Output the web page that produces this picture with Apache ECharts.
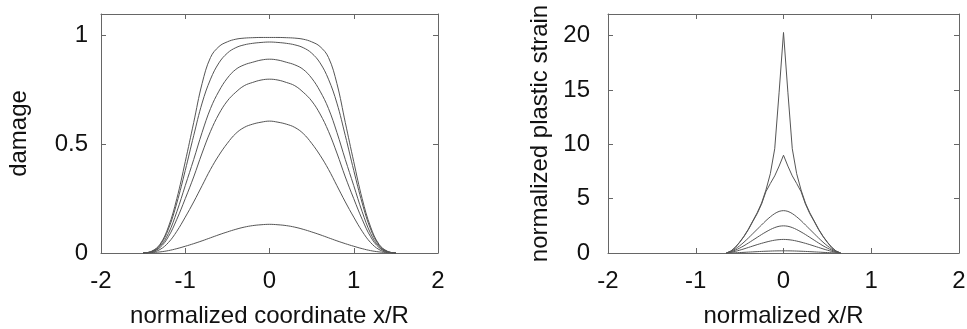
<!DOCTYPE html>
<html>
<head>
<meta charset="utf-8">
<script src="https://cdn.jsdelivr.net/npm/echarts@6/dist/echarts.min.js"></script>
<style>
  html, body { margin: 0; padding: 0; background: #fff; }
  #chart { width: 967px; height: 329px; }
</style>
</head>
<body>
<div id="chart"></div>
<script>
// left panel: damage profiles, x/R = -1.5 .. 1.5 step 0.1
const damageX = [-1.5, -1.4, -1.3, -1.2, -1.1, -1.0, -0.9, -0.8, -0.7, -0.6, -0.5, -0.4, -0.3, -0.2, -0.1,
  0, 0.1, 0.2, 0.3, 0.4, 0.5, 0.6, 0.7, 0.8, 0.9, 1.0, 1.1, 1.2, 1.3, 1.4, 1.5]
const damageA = [0, .008, .04, .12, .25, .42, .6, .78, .9, .95, .972, .984, .989, .991, .992, .992, .992, .991, .989, .984, .972, .95, .9, .78, .6, .42, .25, .12, .04, .008, 0]
const damageB = [0, .007, .036, .11, .23, .38, .54, .69, .8, .875, .92, .945, .958, .965, .969, .971, .969, .965, .958, .945, .92, .875, .8, .69, .54, .38, .23, .11, .036, .007, 0]
const damageC = [0, .006, .03, .09, .19, .31, .43, .555, .665, .745, .805, .845, .866, .878, .888, .892, .888, .878, .866, .845, .805, .745, .665, .555, .43, .31, .19, .09, .03, .006, 0]
const damageD = [0, .005, .025, .075, .155, .25, .35, .46, .56, .64, .7, .74, .77, .785, .796, .8, .796, .785, .77, .74, .7, .64, .56, .46, .35, .25, .155, .075, .025, .005, 0]
const damageE = [0, .003, .016, .048, .1, .165, .235, .31, .385, .45, .505, .55, .578, .593, .602, .607, .602, .593, .578, .55, .505, .45, .385, .31, .235, .165, .1, .048, .016, .003, 0]
const damageF = [0, .002, .005, .011, .02, .031, .043, .056, .07, .084, .097, .109, .119, .126, .13, .132, .13, .126, .119, .109, .097, .084, .07, .056, .043, .031, .02, .011, .005, .002, 0]

// right panel: normalized plastic strain, x/R = -0.65 .. 0.65 step 0.05
const strainX = [-0.65, -0.6, -0.55, -0.5, -0.45, -0.4, -0.35, -0.3, -0.25, -0.2, -0.15, -0.1, -0.05,
  0, 0.05, 0.1, 0.15, 0.2, 0.25, 0.3, 0.35, 0.4, 0.45, 0.5, 0.55, 0.6, 0.65]
const strain1 = [0, .18, .52, 1.0, 1.55, 2.2, 2.95, 3.7, 4.6, 5.8, 7.3, 9.6, 14.8, 20.3, 14.8, 9.6, 7.3, 5.8, 4.6, 3.7, 2.95, 2.2, 1.55, 1.0, .52, .18, 0]
const strain2 = [0, .17, .5, .97, 1.52, 2.15, 2.9, 3.62, 4.5, 5.65, 6.4, 7.1, 8.0, 9.0, 8.0, 7.1, 6.4, 5.65, 4.5, 3.62, 2.9, 2.15, 1.52, .97, .5, .17, 0]
const strain3 = [0, .14, .37, .66, 1.0, 1.38, 1.78, 2.18, 2.58, 2.98, 3.33, 3.63, 3.83, 3.9, 3.83, 3.63, 3.33, 2.98, 2.58, 2.18, 1.78, 1.38, 1.0, .66, .37, .14, 0]
const strain4 = [0, .1, .26, .45, .67, .92, 1.18, 1.44, 1.7, 1.94, 2.16, 2.34, 2.46, 2.5, 2.46, 2.34, 2.16, 1.94, 1.7, 1.44, 1.18, .92, .67, .45, .26, .1, 0]
const strain5 = [0, .06, .15, .26, .38, .51, .64, .77, .89, 1.0, 1.1, 1.18, 1.23, 1.25, 1.23, 1.18, 1.1, 1.0, .89, .77, .64, .51, .38, .26, .15, .06, 0]
const strain6 = [0, .008, .022, .04, .06, .082, .103, .125, .145, .163, .178, .19, .198, .2, .198, .19, .178, .163, .145, .125, .103, .082, .06, .04, .022, .008, 0]

// tick labels
const xTicks = [-2, -1, 0, 1, 2]
const damageTicks = [0, 0.5, 1]
const strainTicks = [0, 5, 10, 15, 20]

const FRAME = '#666'
const CURVE = '#555'
const TEXT = '#111'
const FONT = '"Liberation Sans", Arial, sans-serif'

const pairs = (xs, ys) => xs.map((x, i) => [x, ys[i]])

function frameAxis(extra, ticks) {
  return Object.assign({
    type: 'value',
    axisLine: { show: true, onZero: false, lineStyle: { color: FRAME, width: 1 } },
    axisTick: { show: true, inside: true, length: 5, customValues: ticks, lineStyle: { color: FRAME } },
    splitLine: { show: false },
    axisLabel: { show: false },
  }, extra)
}

function xAxes(gridIndex, name) {
  return [
    frameAxis({
      gridIndex, position: 'bottom', min: -2, max: 2,
      axisLabel: { show: true, customValues: xTicks, color: TEXT, fontSize: 24, fontFamily: FONT, margin: 16 },
      name, nameLocation: 'middle', nameGap: 51,
      nameTextStyle: { color: TEXT, fontSize: 24, fontFamily: FONT },
    }, xTicks),
    frameAxis({ gridIndex, position: 'top', min: -2, max: 2 }, xTicks),
  ]
}

function yAxes(gridIndex, max, ticks, name, gap, margin) {
  return [
    frameAxis({
      gridIndex, position: 'left', min: 0, max,
      axisLabel: { show: true, customValues: ticks, color: TEXT, fontSize: 24, fontFamily: FONT, margin },
      name, nameLocation: 'middle', nameGap: gap,
      nameTextStyle: { color: TEXT, fontSize: 24, fontFamily: FONT },
    }, ticks),
    frameAxis({ gridIndex, position: 'right', min: 0, max }, ticks),
  ]
}

function curve(xs, ys, xi, yi, smooth) {
  return {
    type: 'line', xAxisIndex: xi, yAxisIndex: yi,
    data: pairs(xs, ys), smooth, showSymbol: false, silent: true,
    lineStyle: { color: CURVE, width: 1 },
  }
}

const chart = echarts.init(document.getElementById('chart'), null, { renderer: 'canvas' })
chart.setOption({
  animation: false,
  backgroundColor: '#fff',
  grid: [
    { left: 101, right: 529, top: 14, bottom: 76, outerBoundsMode: 'none', containLabel: false },
    { left: 608, right: 8, top: 14, bottom: 76, outerBoundsMode: 'none', containLabel: false },
  ],
  xAxis: [...xAxes(0, 'normalized coordinate x/R'), ...xAxes(1, 'normalized x/R')],
  yAxis: [
    ...yAxes(0, 1.1, damageTicks, 'damage', 70, 13),
    ...yAxes(1, 22, strainTicks, 'normalized plastic strain', 56, 18),
  ],
  series: [
    curve(damageX, damageA, 0, 0, 0.4),
    curve(damageX, damageB, 0, 0, 0.4),
    curve(damageX, damageC, 0, 0, 0.4),
    curve(damageX, damageD, 0, 0, 0.4),
    curve(damageX, damageE, 0, 0, 0.4),
    curve(damageX, damageF, 0, 0, 0.4),
    curve(strainX, strain1, 2, 2, false),
    curve(strainX, strain2, 2, 2, false),
    curve(strainX, strain3, 2, 2, 0.3),
    curve(strainX, strain4, 2, 2, 0.3),
    curve(strainX, strain5, 2, 2, 0.3),
    curve(strainX, strain6, 2, 2, 0.3),
  ],
})
</script>
</body>
</html>
